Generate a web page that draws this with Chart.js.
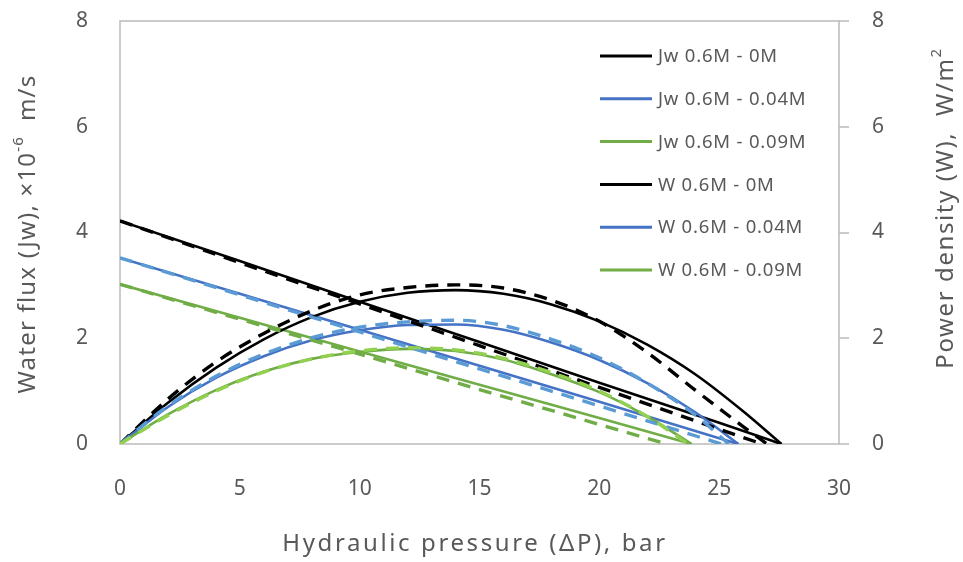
<!DOCTYPE html>
<html>
<head>
<meta charset="utf-8">
<script src="https://cdn.jsdelivr.net/npm/chart.js@4.4.0/dist/chart.umd.min.js"></script>
<style>
html, body { margin: 0; padding: 0; background: #fff; }
#wrap { width: 963px; height: 562px; }
</style>
</head>
<body>
<div id="wrap"><canvas id="chart" width="963" height="562"></canvas></div>
<script>
// ---- data ----
// water flux (Jw), x10^-6 m/s, solid lines
const jw0X    = [0, 5, 10, 15, 20, 25, 27.6];
const jw0     = [4.22, 3.46, 2.69, 1.93, 1.16, 0.40, 0];
const jw004X  = [0, 5, 10, 15, 20, 25, 25.8];
const jw004   = [3.52, 2.84, 2.16, 1.48, 0.80, 0.11, 0];
const jw009X  = [0, 5, 10, 15, 20, 23.85];
const jw009   = [3.02, 2.39, 1.75, 1.12, 0.49, 0];

// water flux, dashed lines
const jw0dX   = [0, 5, 10, 15, 20, 25, 26.8];
const jw0d    = [4.22, 3.43, 2.65, 1.86, 1.07, 0.28, 0];
const jw004dX = [0, 5, 10, 15, 20, 25.1];
const jw004d  = [3.52, 2.82, 2.12, 1.42, 0.72, 0];
const jw009dX = [0, 5, 10, 15, 20, 22.8];
const jw009d  = [3.02, 2.36, 1.70, 1.03, 0.37, 0];

// power density (W), W/m2, solid lines
const w0X     = [0, 2, 4, 6, 8, 10, 12, 14, 16, 18, 20, 22, 24, 26, 27.6];
const w0      = [0, 0.78, 1.44, 1.98, 2.40, 2.69, 2.86, 2.91, 2.84, 2.64, 2.32, 1.88, 1.32, 0.62, 0];
const w004X   = [0, 2, 4, 6, 8, 10, 12, 14, 16, 18, 20, 22, 24, 25.8];
const w004    = [0, 0.70, 1.25, 1.66, 1.96, 2.15, 2.25, 2.26, 2.16, 1.92, 1.59, 1.15, 0.60, 0];
const w009X   = [0, 2, 4, 6, 8, 10, 12, 14, 16, 18, 20, 22, 23.85];
const w009    = [0, 0.56, 1.02, 1.37, 1.61, 1.74, 1.80, 1.76, 1.60, 1.32, 0.98, 0.52, 0];

// power density, dashed lines
const w0dX    = [0, 2, 4, 6, 8, 10, 12, 14, 16, 18, 20, 22, 24, 26, 27.0];
const w0d     = [0, 0.85, 1.55, 2.09, 2.52, 2.82, 2.96, 3.01, 2.95, 2.72, 2.32, 1.73, 1.02, 0.33, 0];
const w004dX  = [0, 2, 4, 6, 8, 10, 12, 14, 16, 18, 20, 22, 24, 25.4];
const w004d   = [0, 0.72, 1.28, 1.70, 2.01, 2.21, 2.31, 2.34, 2.24, 1.98, 1.63, 1.15, 0.55, 0];
const w009dX  = [0, 2, 4, 6, 8, 10, 12, 14, 16, 18, 20, 22, 23.7];
const w009d   = [0, 0.54, 1.00, 1.36, 1.61, 1.76, 1.82, 1.78, 1.62, 1.35, 1.00, 0.52, 0];

const legendLabels = ["Jw 0.6M - 0M", "Jw 0.6M - 0.04M", "Jw 0.6M - 0.09M",
                      "W 0.6M - 0M", "W 0.6M - 0.04M", "W 0.6M - 0.09M"];

const BLACK = "#000000", BLUE = "#4472C4", LBLUE = "#5B9BD5", GREEN = "#70AD47", LGREEN = "#92D050";
const TEXT = "#595959";
const FONT = "'Noto Sans', 'Open Sans', sans-serif";

function pts(xs, ys) {
    return xs.map((x, i) => ({x: x, y: ys[i]}));
}

function solid(label, xs, ys, color, axis, curved) {
    return {
        label: label, data: pts(xs, ys), yAxisID: axis,
        borderColor: color, borderWidth: 2.6, pointRadius: 0,
        tension: curved ? 0.4 : 0, cubicInterpolationMode: curved ? "monotone" : "default",
        fill: false
    };
}

function dashed(xs, ys, color, axis, curved) {
    const d = solid("", xs, ys, color, axis, curved);
    d.borderWidth = 3.4;
    d.borderDash = [13, 9];
    return d;
}

// first dataset ends up on top
const datasets = [
    dashed(w009dX, w009d, LGREEN, "y2", true),
    dashed(w004dX, w004d, LBLUE, "y2", true),
    dashed(w0dX, w0d, BLACK, "y2", true),
    dashed(jw009dX, jw009d, GREEN, "y", false),
    dashed(jw004dX, jw004d, LBLUE, "y", false),
    dashed(jw0dX, jw0d, BLACK, "y", false),
    solid(legendLabels[5], w009X, w009, GREEN, "y2", true),
    solid(legendLabels[4], w004X, w004, BLUE, "y2", true),
    solid(legendLabels[3], w0X, w0, BLACK, "y2", true),
    solid(legendLabels[2], jw009X, jw009, GREEN, "y", false),
    solid(legendLabels[1], jw004X, jw004, BLUE, "y", false),
    solid(legendLabels[0], jw0X, jw0, BLACK, "y", false)
];
const legendColors = [BLACK, BLUE, GREEN, BLACK, BLUE, GREEN];

// text made of runs, so the exponents can be raised
function drawRuns(ctx, runs, cx, cy, angle, spacing) {
    ctx.save();
    ctx.translate(cx, cy);
    ctx.rotate(angle);
    ctx.letterSpacing = spacing + "px";
    let total = 0;
    runs.forEach(r => { ctx.font = r.size + "px " + FONT; r.w = ctx.measureText(r.t).width; total += r.w; });
    let x = -total / 2;
    ctx.fillStyle = TEXT;
    ctx.textBaseline = "middle";
    ctx.textAlign = "left";
    runs.forEach(r => {
        ctx.font = r.size + "px " + FONT;
        ctx.fillText(r.t, x, -(r.rise || 0));
        x += r.w;
    });
    ctx.restore();
}

const decor = {
    id: "decor",
    beforeDatasetsDraw(chart) {
        const ctx = chart.ctx, a = chart.chartArea;
        ctx.save();
        ctx.strokeStyle = "#BFBFBF";
        ctx.lineWidth = 1.6;
        ctx.strokeRect(a.left, a.top, a.right - a.left, a.bottom - a.top);
        const y2 = chart.scales.y2;
        y2.ticks.forEach(t => {
            const py = Math.round(y2.getPixelForValue(t.value));
            ctx.beginPath();
            ctx.moveTo(a.right, py);
            ctx.lineTo(a.right + 10, py);
            ctx.stroke();
        });
        ctx.restore();
    },
    afterDraw(chart) {
        const ctx = chart.ctx;
        drawRuns(ctx, [{t: "Hydraulic pressure (\u0394P), bar", size: 24}], 475, 544, 0, 2.6);
        drawRuns(ctx, [{t: "Water flux (Jw), \u00d710", size: 24}, {t: "-6", size: 15, rise: 9}, {t: "  m/s", size: 24}],
                 28, 234, -Math.PI / 2, 1.2);
        drawRuns(ctx, [{t: "Power density (W),  W/m", size: 24}, {t: "2", size: 15, rise: 9}],
                 946, 208, -Math.PI / 2, 1.6);

        // legend
        ctx.save();
        ctx.font = "18.5px " + FONT;
        ctx.letterSpacing = "0.8px";
        ctx.textBaseline = "middle";
        ctx.fillStyle = TEXT;
        legendLabels.forEach((lab, i) => {
            const y = 56 + i * 42.8;
            ctx.strokeStyle = legendColors[i];
            ctx.lineWidth = 3;
            ctx.beginPath();
            ctx.moveTo(600, y);
            ctx.lineTo(652, y);
            ctx.stroke();
            ctx.fillText(lab, 658, y + 1);
        });
        ctx.restore();
    }
};

const tickFont = {family: FONT, size: 21};

function noPad(s) {
    s.paddingTop = 0; s.paddingBottom = 0; s.paddingLeft = 0; s.paddingRight = 0;
}

new Chart(document.getElementById("chart"), {
    type: "line",
    data: {datasets: datasets},
    options: {
        responsive: false,
        animation: false,
        devicePixelRatio: 1,
        layout: {padding: {top: 21, left: 0, right: 0, bottom: 0}},
        plugins: {legend: {display: false}, tooltip: {enabled: false}},
        scales: {
            x: {
                type: "linear", min: 0, max: 30,
                grid: {display: false, drawTicks: false}, border: {display: false},
                ticks: {stepSize: 5, color: TEXT, font: tickFont, padding: 32, maxRotation: 0},
                afterFit: s => { s.height = 118; noPad(s); }
            },
            y: {
                position: "left", min: 0, max: 8,
                grid: {display: false, drawTicks: false}, border: {display: false},
                ticks: {stepSize: 2, color: TEXT, font: tickFont, padding: 32},
                afterFit: s => { s.width = 120; noPad(s); }
            },
            y2: {
                position: "right", min: 0, max: 8,
                grid: {display: false, drawTicks: false}, border: {display: false},
                ticks: {stepSize: 2, color: TEXT, font: tickFont, padding: 33},
                afterFit: s => { s.width = 124; noPad(s); }
            }
        }
    },
    plugins: [decor]
});
</script>
</body>
</html>
